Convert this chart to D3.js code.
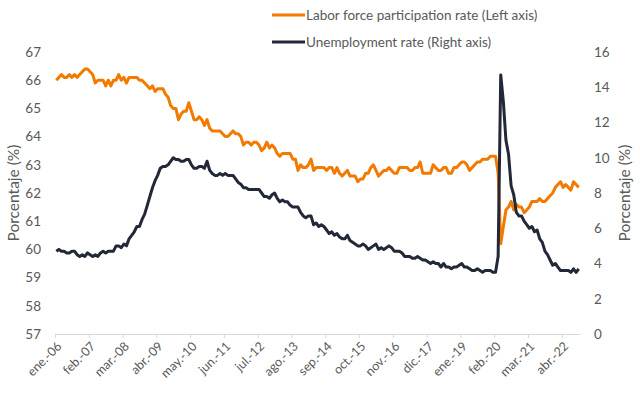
<!DOCTYPE html>
<html>
<head>
<meta charset="utf-8">
<script src="https://cdn.jsdelivr.net/npm/d3@7"></script>
<style>
  body { margin: 0; background: #fff; }
  svg { display: block; font-family: Lato, "Open Sans", sans-serif; }
</style>
</head>
<body>
<svg width="640" height="397"></svg>
<script>
const d3 = window.d3

// monthly series, ene.-06 .. oct.-22
const monthNames = ['ene.', 'feb.', 'mar.', 'abr.', 'may.', 'jun.', 'jul.', 'ago.', 'sep.', 'oct.', 'nov.', 'dic.']
const tickLabels = ['ene.-06', 'feb.-07', 'mar.-08', 'abr.-09', 'may.-10', 'jun.-11', 'jul.-12', 'ago.-13',
  'sep.-14', 'oct.-15', 'nov.-16', 'dic.-17', 'ene.-19', 'feb.-20', 'mar.-21', 'abr.-22']
const leftTicks = [57, 58, 59, 60, 61, 62, 63, 64, 65, 66, 67]
const rightTicks = [0, 2, 4, 6, 8, 10, 12, 14, 16]

const participation = [
  66.0, 66.1, 66.2, 66.1, 66.1, 66.2, 66.1, 66.2, 66.1, 66.2, 66.3, 66.4,
  66.4, 66.3, 66.2, 65.9, 66.0, 66.0, 66.0, 65.8, 66.0, 65.8, 66.0, 66.0,
  66.2, 66.0, 66.1, 65.9, 66.1, 66.1, 66.1, 66.1, 66.0, 66.0, 65.9, 65.8,
  65.7, 65.8, 65.6, 65.7, 65.7, 65.7, 65.5, 65.4, 65.1, 65.0, 65.0, 64.6,
  64.8, 64.9, 64.9, 65.2, 64.9, 64.6, 64.6, 64.7, 64.6, 64.4, 64.6, 64.3,
  64.2, 64.2, 64.2, 64.2, 64.1, 64.0, 64.0, 64.1, 64.2, 64.1, 64.1, 64.0,
  63.7, 63.8, 63.8, 63.7, 63.8, 63.8, 63.7, 63.5, 63.6, 63.8, 63.6, 63.7,
  63.6, 63.4, 63.3, 63.4, 63.4, 63.4, 63.4, 63.2, 63.2, 62.8, 63.0, 62.9,
  62.9, 63.0, 63.2, 62.8, 62.9, 62.9, 62.9, 62.9, 62.8, 62.9, 62.9, 62.7,
  62.9, 62.7, 62.6, 62.7, 62.8, 62.6, 62.6, 62.6, 62.4, 62.5, 62.5, 62.7,
  62.7, 62.9, 63.0, 62.8, 62.6, 62.7, 62.8, 62.8, 62.9, 62.8, 62.7, 62.7,
  62.9, 62.9, 62.9, 62.9, 62.8, 62.8, 62.9, 62.9, 63.1, 62.7, 62.7, 62.7,
  62.7, 63.0, 62.9, 62.8, 62.8, 62.9, 62.9, 62.7, 62.7, 62.9, 62.9, 63.0,
  63.1, 63.1, 63.0, 62.8, 62.9, 63.0, 63.1, 63.1, 63.2, 63.2, 63.2, 63.3,
  63.3, 63.3, 62.7, 60.2, 60.8, 61.4, 61.5, 61.7, 61.4, 61.6, 61.5, 61.5,
  61.3, 61.4, 61.5, 61.7, 61.7, 61.7, 61.8, 61.7, 61.7, 61.8, 61.9, 62.0,
  62.2, 62.3, 62.4, 62.2, 62.3, 62.2, 62.1, 62.4, 62.3, 62.2
]

const unemployment = [
  4.7, 4.8, 4.7, 4.7, 4.6, 4.6, 4.7, 4.7, 4.5, 4.4, 4.5, 4.4,
  4.6, 4.5, 4.4, 4.5, 4.4, 4.6, 4.7, 4.6, 4.7, 4.7, 4.7, 5.0,
  5.0, 4.9, 5.1, 5.0, 5.4, 5.6, 5.8, 6.1, 6.1, 6.5, 6.8, 7.3,
  7.8, 8.3, 8.7, 9.0, 9.4, 9.5, 9.5, 9.6, 9.8, 10.0, 9.9, 9.9,
  9.8, 9.8, 9.9, 9.9, 9.6, 9.4, 9.4, 9.5, 9.5, 9.4, 9.8, 9.3,
  9.1, 9.0, 9.0, 9.1, 9.0, 9.1, 9.0, 9.0, 9.0, 8.8, 8.6, 8.5,
  8.3, 8.3, 8.2, 8.2, 8.2, 8.2, 8.2, 8.0, 7.8, 7.8, 7.7, 7.9,
  8.0, 7.7, 7.5, 7.6, 7.5, 7.5, 7.3, 7.2, 7.2, 7.2, 6.9, 6.7,
  6.6, 6.7, 6.7, 6.2, 6.3, 6.1, 6.2, 6.1, 5.9, 5.7, 5.8, 5.6,
  5.7, 5.5, 5.4, 5.4, 5.6, 5.3, 5.2, 5.1, 5.0, 5.0, 5.1, 5.0,
  4.8, 4.9, 5.0, 5.1, 4.8, 4.9, 4.8, 4.9, 5.0, 4.9, 4.7, 4.7,
  4.7, 4.6, 4.4, 4.4, 4.4, 4.3, 4.3, 4.4, 4.3, 4.2, 4.2, 4.1,
  4.0, 4.1, 4.0, 4.0, 3.8, 4.0, 3.8, 3.8, 3.7, 3.8, 3.8, 3.9,
  4.0, 3.8, 3.8, 3.7, 3.6, 3.6, 3.7, 3.6, 3.5, 3.6, 3.6, 3.6,
  3.5, 3.5, 4.4, 14.7, 13.2, 11.0, 10.2, 8.4, 7.9, 6.9, 6.7, 6.7,
  6.4, 6.2, 6.0, 6.1, 5.8, 5.9, 5.4, 5.2, 4.7, 4.5, 4.2, 3.9,
  4.0, 3.8, 3.6, 3.6, 3.6, 3.6, 3.5, 3.7, 3.5, 3.7
]

const categories = participation.map((d, i) =>
  `${monthNames[i % 12]}-${String(6 + Math.floor(i / 12)).padStart(2, '0')}`)

const svg = d3.select('svg')
const plotLeft = 55, plotRight = 580, plotTop = 52, plotBottom = 334
const n = categories.length

const x = d3.scaleLinear().domain([0, n]).range([plotLeft, plotRight])
const yL = d3.scaleLinear().domain([57, 67]).range([plotBottom, plotTop])
const yR = d3.scaleLinear().domain([0, 16]).range([plotBottom, plotTop])

const textColor = '#595959'

// x axis: line + tick marks between categories every 13 months
const tickIdx = tickLabels.map((t) => categories.indexOf(t))
const xAxis = svg.append('g')
  .attr('transform', `translate(0,${plotBottom})`)
  .call(d3.axisBottom(x).tickValues(tickIdx).tickSize(4).tickSizeOuter(0).tickFormat(''))
xAxis.select('.domain').attr('stroke', '#d9d9d9')
xAxis.selectAll('.tick line').attr('stroke', '#d9d9d9')

svg.append('g')
  .selectAll('text')
  .data(tickIdx)
  .join('text')
  .attr('transform', (i) => `translate(${x(i + 0.5) + 3},${plotBottom + 10}) rotate(-45)`)
  .attr('text-anchor', 'end')
  .attr('dy', '0.35em')
  .attr('fill', textColor)
  .style('font-size', '12.5px')
  .text((i) => categories[i])

// left and right value axes (labels only)
const yAxisL = svg.append('g')
  .attr('transform', `translate(${plotLeft},0)`)
  .call(d3.axisLeft(yL).tickValues(leftTicks).tickSize(0).tickPadding(14))
const yAxisR = svg.append('g')
  .attr('transform', `translate(${plotRight},0)`)
  .call(d3.axisRight(yR).tickValues(rightTicks).tickSize(0).tickPadding(14))
for (const g of [yAxisL, yAxisR]) {
  g.select('.domain').remove()
  g.selectAll('text').attr('fill', textColor).style('font-size', '13.5px').style('font-family', 'Lato, sans-serif')
}

svg.append('text')
  .attr('transform', `translate(14,${(plotTop + plotBottom) / 2}) rotate(-90)`)
  .attr('text-anchor', 'middle')
  .attr('dy', '0.35em')
  .attr('fill', textColor)
  .style('font-size', '15.5px')
  .text('Porcentaje (%)')
svg.append('text')
  .attr('transform', `translate(625,${(plotTop + plotBottom) / 2}) rotate(-90)`)
  .attr('text-anchor', 'middle')
  .attr('dy', '0.35em')
  .attr('fill', textColor)
  .style('font-size', '15.5px')
  .text('Porcentaje (%)')

// lines
const orange = '#f27a00'
const navy = '#222838'
svg.append('path')
  .datum(participation)
  .attr('fill', 'none')
  .attr('stroke', orange)
  .attr('stroke-width', 3)
  .attr('stroke-linejoin', 'round')
  .attr('d', d3.line().x((d, i) => x(i + 0.5)).y((d) => yL(d)))
svg.append('path')
  .datum(unemployment)
  .attr('fill', 'none')
  .attr('stroke', navy)
  .attr('stroke-width', 3)
  .attr('stroke-linejoin', 'round')
  .attr('d', d3.line().x((d, i) => x(i + 0.5)).y((d) => yR(d)))

// legend
const legend = [
  { label: 'Labor force participation rate (Left axis)', color: orange, y: 15 },
  { label: 'Unemployment rate (Right axis)', color: navy, y: 42 }
]
const lg = svg.append('g').selectAll('g').data(legend).join('g')
  .attr('transform', (d) => `translate(272,${d.y})`)
lg.append('line').attr('x1', 0).attr('x2', 33).attr('stroke', (d) => d.color).attr('stroke-width', 3)
lg.append('text')
  .attr('x', 34)
  .attr('dy', '0.35em')
  .attr('fill', textColor)
  .style('font-size', '13.5px')
  .text((d) => d.label)
</script>
</body>
</html>
